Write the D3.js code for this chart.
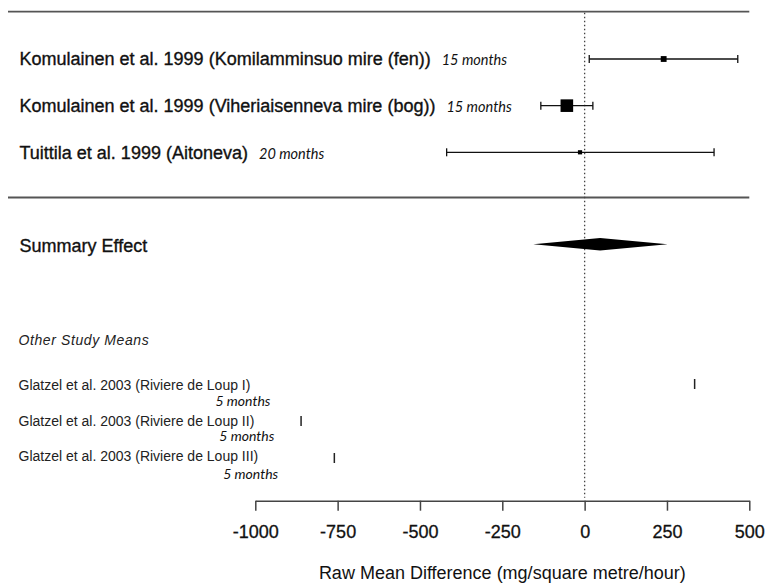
<!DOCTYPE html>
<html>
<head>
<meta charset="utf-8">
<script src="https://cdn.jsdelivr.net/npm/d3@7"></script>
<style>
  html, body { margin: 0; padding: 0; background: #fff; }
  svg { display: block; }
</style>
</head>
<body>
<div id="chart"></div>
<script>
// ---------------- data ----------------
const studies = [
  "Komulainen et al. 1999 (Komilamminsuo mire (fen))",
  "Komulainen et al. 1999 (Viheriaisenneva mire (bog))",
  "Tuittila et al. 1999 (Aitoneva)"
];
const durations = ["15 months", "15 months", "20 months"];
const estimates = [240, -54, -14];
const ciLower = [14, -133, -419];
const ciUpper = [465, 25, 393];

const summaryLabel = "Summary Effect";
const summaryEstimate = 47;
const summaryLower = -156;
const summaryUpper = 252;

const otherHeading = "Other Study Means";
const otherStudies = [
  "Glatzel et al. 2003 (Riviere de Loup I)",
  "Glatzel et al. 2003 (Riviere de Loup II)",
  "Glatzel et al. 2003 (Riviere de Loup III)"
];
const otherDurations = ["5 months", "5 months", "5 months"];
const otherMeans = [334, -861, -760];

const xTicks = [-1000, -750, -500, -250, 0, 250, 500];
const xTitle = "Raw Mean Difference (mg/square metre/hour)";

// ---------------- layout ----------------
const W = 766, H = 586;
const svg = d3.select("#chart").append("svg").attr("width", W).attr("height", H);

const x = d3.scaleLinear().domain([-1000, 500]).range([255.3, 749.3]);

const studyY = d3.scaleLinear().domain([0, 2]).range([59, 152.3]);
const summaryY = 244.3;
const topLineY = 11.7, midLineY = 197.5, axisY = 500.7;
const otherTickY = [384, 421, 458];
const otherLabelY = [390, 426, 461];
const otherDurY = [406, 441, 478.5];

const ink = "#111";
const mainFont = "'Liberation Sans', Arial, sans-serif";
const monthFont = "Lato, 'Open Sans', sans-serif";

// horizontal separator lines
[topLineY, midLineY].forEach(yy => {
  svg.append("line")
    .attr("x1", 8).attr("x2", 749.3).attr("y1", yy).attr("y2", yy)
    .attr("stroke", "#555").attr("stroke-width", 1.8);
});

// zero reference line
svg.append("line")
  .attr("x1", x(0)).attr("x2", x(0))
  .attr("y1", topLineY + 1).attr("y2", axisY - 3)
  .attr("stroke", "#444").attr("stroke-width", 1.3)
  .attr("stroke-dasharray", "1.5,2.5");

// square sizes proportional to precision (metafor style, 0.5..1.5)
const precision = ciLower.map((lo, i) => 3.92 / (ciUpper[i] - lo));
const sizeScale = d3.scaleLinear().domain(d3.extent(precision)).range([0.5, 1.5]);
const unit = 8.4;

// study rows
studies.forEach((s, i) => {
  const yy = studyY(i);
  const g = svg.append("g");
  g.append("line").attr("x1", x(ciLower[i])).attr("x2", x(ciUpper[i]))
    .attr("y1", yy).attr("y2", yy).attr("stroke", ink).attr("stroke-width", 1.3);
  [ciLower[i], ciUpper[i]].forEach(v => {
    g.append("line").attr("x1", x(v)).attr("x2", x(v))
      .attr("y1", yy - 4).attr("y2", yy + 4)
      .attr("stroke", ink).attr("stroke-width", 1.3);
  });
  const sz = sizeScale(precision[i]) * unit;
  g.append("rect").attr("x", x(estimates[i]) - sz / 2).attr("y", yy - sz / 2)
    .attr("width", sz).attr("height", sz).attr("fill", "#000");

  const t = svg.append("text").attr("x", 19.5).attr("y", yy + 6.4)
    .attr("font-family", mainFont).attr("font-size", 18).attr("fill", ink);
  t.append("tspan").text(s).attr("stroke", ink).attr("stroke-width", 0.35);
  t.append("tspan").attr("dx", 11)
    .attr("font-family", monthFont).attr("font-style", "italic")
    .attr("font-size", 14.5).text(durations[i]);
});

// summary
svg.append("text").attr("x", 19.5).attr("y", summaryY + 7.4)
  .attr("font-family", mainFont).attr("font-size", 18).attr("fill", ink)
  .attr("stroke", ink).attr("stroke-width", 0.35)
  .text(summaryLabel);
const dh = 6.3;
svg.append("path")
  .attr("d", d3.line()([
    [x(summaryLower), summaryY],
    [x(summaryEstimate), summaryY - dh],
    [x(summaryUpper), summaryY],
    [x(summaryEstimate), summaryY + dh]
  ]) + "Z")
  .attr("fill", "#000");

// other study means
svg.append("text").attr("x", 18.5).attr("y", 345)
  .attr("font-family", mainFont).attr("font-size", 14).attr("font-style", "italic")
  .attr("letter-spacing", 0.6).attr("fill", "#222")
  .text(otherHeading);

otherStudies.forEach((s, i) => {
  const t = svg.append("text").attr("x", 18.5).attr("y", otherLabelY[i])
    .attr("font-family", mainFont).attr("font-size", 14).attr("fill", "#222")
    .text(s);
  const len = t.node().getComputedTextLength();
  svg.append("text").attr("x", 18.5 + len - 35).attr("y", otherDurY[i])
    .attr("font-family", monthFont).attr("font-style", "italic")
    .attr("font-size", 14).attr("fill", ink).text(otherDurations[i]);
  svg.append("line").attr("x1", x(otherMeans[i])).attr("x2", x(otherMeans[i]))
    .attr("y1", otherTickY[i] - 5).attr("y2", otherTickY[i] + 5)
    .attr("stroke", "#222").attr("stroke-width", 1.5);
});

// axis
const axis = d3.axisBottom(x).tickValues(xTicks).tickSize(10).tickSizeOuter(0)
  .tickFormat(d => d < 0 ? "-" + Math.abs(d) : String(d));
const ag = svg.append("g").attr("transform", `translate(0,${axisY})`).call(axis);
ag.select(".domain").attr("stroke", "#444").attr("stroke-width", 1.5);
ag.selectAll(".tick line").attr("stroke", "#444").attr("stroke-width", 1.5);
ag.selectAll(".tick text")
  .attr("font-family", mainFont).attr("font-size", 18).attr("fill", ink)
  .attr("stroke", ink).attr("stroke-width", 0.3)
  .attr("dy", null).attr("y", 37.3);

svg.append("text").attr("x", (x.range()[0] + x.range()[1]) / 2).attr("y", 578.5)
  .attr("text-anchor", "middle")
  .attr("font-family", mainFont).attr("font-size", 18).attr("fill", ink)
  .text(xTitle);
</script>
</body>
</html>
